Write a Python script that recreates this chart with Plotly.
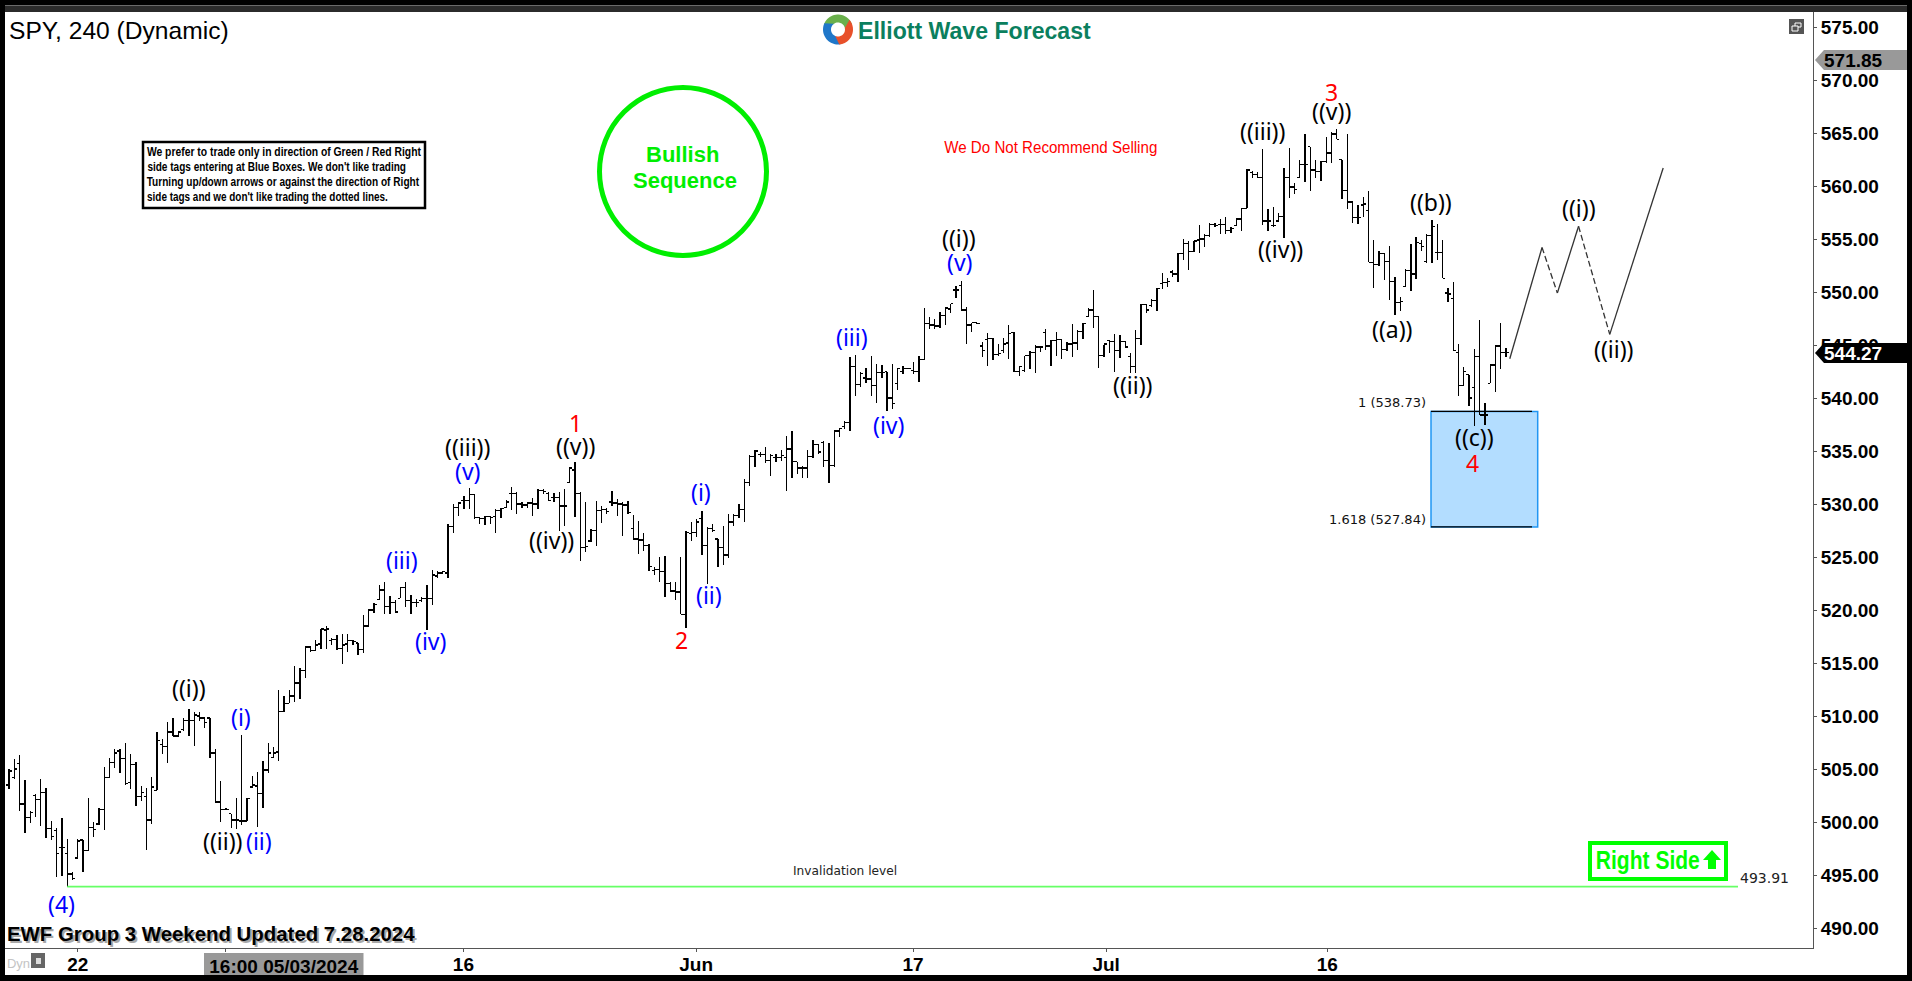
import json
import numpy as np
import plotly.graph_objects as go

highs = [505.0,505.9,506.3,504.0,501.0,502.6,504.1,503.2,500.1,499.4,500.4,498.4,495.3,498.4,498.3,502.3,500.0,501.3,505.2,506.0,
506.9,506.9,507.5,506.4,505.7,503.4,503.2,504.2,508.5,507.8,509.4,509.8,508.6,509.8,510.7,510.4,510.4,509.9,509.8,506.9,
503.9,501.3,500.8,502.3,508.2,502.3,504.3,504.7,505.8,507.5,507.1,512.5,511.9,512.5,514.7,514.5,516.5,516.5,517.2,518.2,
518.5,517.4,517.6,517.7,517.7,517.2,516.9,519.5,520.1,520.7,
522.4,522.6,521.3,520.9,522.2,522.6,521.4,521.0,521.2,522.4,523.8,523.7,523.7,528.1,530.0,530.2,530.8,531.5,530.9,528.8,
528.9,528.9,529.5,529.6,530.4,531.6,531.1,530.2,530.2,530.6,531.4,531.4,531.1,531.0,531.1,531.4,533.5,534.0,531.1,530.2,
527.6,530.3,529.8,529.6,531.2,530.5,530.2,530.3,529.0,528.4,527.3,526.2,524.1,525.0,525.1,522.6,522.6,525.0,527.5,
528.3,528.6,529.3,527.8,528.1,526.7,527.9,529.1,529.1,530.0,532.4,534.6,535.1,534.9,535.4,534.7,534.7,535.1,536.4,536.9,
534.0,533.6,535.1,536.0,535.7,535.9,535.8,536.9,537.2,537.8,543.9,544.1,542.5,542.8,544.0,543.2,543.1,542.5,543.2,542.8,
543.0,542.8,543.4,544.0,548.5,547.6,547.5,548.1,548.5,548.9,550.6,551.0,548.6,547.1,547.1,545.3,546.1,545.7,545.1,545.7,
546.9,546.2,543.0,544.0,544.4,545.0,544.9,546.5,545.5,546.2,545.6,545.3,547.0,546.4,547.1,548.5,550.2,547.7,545.0,545.5,
546.0,545.9,545.4,544.2,546.4,548.9,548.9,549.3,550.4,
551.8,551.3,552.1,553.7,555.0,554.8,554.8,556.3,555.5,556.5,556.5,556.9,557.1,556.1,557.0,557.9,561.6,561.4,561.3,563.5,
557.8,558.0,557.5,561.7,563.6,560.3,562.5,564.9,563.7,562.5,562.4,564.6,565.1,565.4,562.5,564.9,558.5,558.2,559.0,559.5,
554.9,553.9,553.7,554.3,551.4,549.5,552.2,554.5,555.2,554.9,555.5,556.8,556.4,554.9,550.4,550.9,545.1,542.9,542.2,544.6,
547.4,539.5,543.2,545.0,547.1,544.7]
lows = [503.1,504.1,501.0,499.0,499.9,500.5,499.6,498.5,498.3,494.8,494.9,493.9,494.5,496.5,495.3,497.3,498.6,499.7,499.2,504.2,
505.1,504.6,503.5,503.1,501.5,502.0,497.4,499.8,503.0,506.4,505.6,508.1,508.0,508.6,508.1,507.2,509.5,508.9,506.0,501.9,
500.0,501.1,499.4,499.3,499.7,500.1,503.2,499.5,501.3,504.6,506.1,505.8,510.4,511.2,511.3,511.6,513.6,516.0,516.1,516.3,
516.3,516.7,516.2,514.9,516.0,516.7,515.8,515.9,518.4,519.7,
520.9,519.6,519.6,519.8,521.1,520.3,519.6,520.3,520.8,518.1,520.5,523.0,523.4,523.0,527.3,528.9,529.5,529.5,528.6,528.1,
528.0,528.1,527.3,528.7,529.6,529.4,529.1,529.6,529.6,528.9,529.5,530.9,530.3,530.2,527.5,527.9,532.0,528.8,524.6,525.5,
526.4,526.0,528.2,529.1,529.8,528.9,527.0,529.1,526.7,525.3,525.6,523.7,523.3,522.6,521.2,521.7,520.9,519.6,518.3,
526.5,526.9,525.2,522.5,527.4,524.1,524.2,524.9,527.9,528.7,528.3,531.7,533.5,534.4,533.9,532.6,534.0,534.1,531.2,532.5,
532.8,532.5,532.5,534.3,534.7,533.5,532.0,533.5,536.3,537.1,536.9,540.2,541.0,541.4,540.2,539.5,541.9,538.8,539.0,540.8,
542.3,542.7,542.3,541.5,543.6,546.5,546.5,546.6,546.9,548.0,549.4,548.3,545.1,546.2,547.0,543.9,543.0,543.6,544.0,544.2,
543.7,542.5,542.1,542.5,542.7,542.4,544.3,544.5,543.0,544.0,543.7,544.4,543.9,544.5,545.6,547.6,546.6,542.8,543.9,544.2,
542.5,543.8,544.8,542.4,542.4,545.0,548.0,548.6,548.2,
550.3,550.5,551.4,550.9,553.0,552.1,553.8,553.7,554.2,555.2,556.1,555.5,555.5,555.6,556.2,555.8,557.9,560.8,560.8,556.3,
555.8,556.1,556.7,555.1,558.9,559.2,560.8,560.4,559.5,560.8,560.5,562.2,562.2,564.4,558.8,557.8,556.5,556.4,557.1,552.8,
550.4,552.5,551.1,549.2,547.8,548.2,550.5,550.1,551.2,553.9,552.7,552.7,553.0,551.3,549.1,544.5,540.2,541.2,539.2,537.4,
538.4,537.5,541.4,540.6,542.7,543.9]
opens = [503.5,504.2,505.5,501.7,500.4,502.5,502.1,502.8,499.4,499.2,497.6,497.0,495.1,496.6,498.3,497.3,499.5,499.8,501.2,504.2,
505.6,506.7,506.0,503.7,505.4,502.4,502.4,500.2,503.0,507.3,507.1,508.5,508.1,508.7,509.6,509.6,510.0,509.8,509.8,506.5,
501.9,501.2,500.8,500.2,500.1,500.1,503.3,503.4,502.7,504.9,506.1,506.6,510.4,511.2,511.9,513.1,514.3,516.5,516.2,516.8,
518.1,517.1,517.2,516.4,516.8,517.1,516.9,516.3,518.5,520.0,
521.0,521.9,520.3,520.7,521.1,522.1,520.9,520.7,520.9,521.1,521.1,523.2,523.5,523.5,527.9,529.7,530.3,530.3,530.9,528.7,
528.6,528.8,528.8,529.4,529.7,531.0,531.0,530.0,529.9,530.1,530.0,531.3,531.0,530.6,530.6,529.8,532.0,533.2,531.0,525.9,
526.5,527.5,529.4,529.5,530.2,530.1,530.0,529.9,527.7,526.7,526.6,526.1,523.7,523.8,523.6,522.5,521.8,521.7,519.6,
527.2,527.3,528.6,526.1,527.7,526.7,525.9,525.2,528.3,528.9,529.5,532.0,534.5,534.7,534.7,534.1,534.4,534.4,534.4,535.2,
534.0,533.4,533.4,534.5,535.6,535.8,534.1,533.6,536.9,537.3,537.7,543.0,541.3,541.9,541.8,541.2,542.4,542.5,540.0,541.4,
542.5,542.8,542.6,542.5,543.6,547.0,546.9,546.8,547.8,548.4,550.2,550.6,548.3,546.9,547.1,544.9,545.5,545.6,544.1,544.5,
545.2,546.2,542.5,542.6,544.0,544.3,544.8,546.2,544.9,545.4,545.5,544.6,545.1,545.2,546.3,547.7,548.3,547.7,544.0,545.4,
545.3,544.5,545.3,543.9,543.0,545.6,548.8,548.7,549.2,
550.8,550.9,551.9,551.7,553.6,554.6,553.8,554.9,555.0,555.3,556.4,556.4,556.4,555.8,556.3,556.9,557.9,561.3,561.1,560.8,
556.7,556.3,556.7,557.1,560.8,559.9,560.8,562.0,563.7,561.5,561.4,562.3,563.1,564.9,562.5,559.6,558.5,557.0,558.2,557.7,
552.8,552.6,553.6,552.9,551.0,549.0,550.5,552.0,551.7,554.6,552.9,555.3,553.7,553.7,549.9,549.4,544.3,541.2,542.2,541.0,
543.9,538.4,541.4,543.1,544.9,544.3]
closes = [504.8,505.0,501.7,500.4,500.9,502.1,502.8,499.4,498.6,497.0,497.6,495.1,494.7,498.2,497.3,499.5,499.3,501.2,504.2,505.6,
506.5,506.0,503.6,505.4,502.4,502.8,500.2,503.3,507.7,507.1,508.5,508.1,508.5,509.6,509.6,510.1,509.8,509.4,506.5,501.9,
501.2,501.2,500.2,500.2,500.1,502.2,503.5,502.7,504.9,506.5,506.5,510.4,511.2,511.9,513.1,514.3,516.5,516.2,516.7,518.2,
518.2,517.2,516.4,516.7,517.1,517.0,516.3,518.5,520.0,520.5,
521.9,520.3,520.7,519.8,522.1,520.9,520.7,520.7,521.1,521.1,523.3,523.5,523.6,527.9,529.7,530.1,530.3,530.9,528.7,528.6,
528.8,528.7,529.4,529.6,530.2,531.0,530.0,529.9,530.1,530.0,531.3,531.2,530.3,530.6,529.8,529.8,533.4,531.0,525.9,526.0,
527.5,529.4,529.5,529.3,530.1,530.0,529.9,529.2,526.7,526.6,526.1,524.1,523.8,523.6,522.5,521.8,521.7,519.6,527.3,
527.3,528.3,526.1,527.7,527.5,525.9,525.2,528.3,528.9,529.5,532.0,534.5,535.0,534.7,534.1,534.6,534.4,534.6,535.2,534.0,
533.4,533.4,534.5,535.6,534.9,534.1,533.6,536.9,537.1,537.7,543.0,541.3,542.3,541.8,541.2,542.4,542.4,540.0,539.5,542.8,
542.8,542.8,542.5,543.6,547.0,546.9,546.8,547.8,548.5,548.9,550.2,548.3,546.9,547.1,547.0,544.5,545.6,544.1,544.2,545.1,
546.1,542.5,543.0,544.0,544.3,544.8,544.8,544.9,545.4,545.5,544.6,545.1,545.2,546.3,547.0,548.3,547.7,544.0,545.1,545.3,
544.5,545.3,544.8,543.0,545.6,548.8,548.3,549.2,550.3,
550.9,551.0,551.7,553.6,554.6,553.8,554.8,555.0,555.3,556.4,556.3,556.4,555.8,556.0,556.9,557.9,561.5,561.1,560.8,556.7,
556.7,556.3,557.1,560.8,559.9,559.7,562.0,562.0,561.5,561.4,562.3,563.1,564.9,564.4,559.6,558.5,557.0,557.0,558.3,552.8,
552.6,553.6,552.9,551.0,549.0,549.1,552.0,551.7,554.7,554.3,555.3,556.2,553.7,551.3,549.8,544.5,541.2,542.5,540.0,543.9,
538.4,538.4,543.1,544.9,544.3,544.27]

y_ticks = [490,495,500,505,510,515,520,525,530,535,540,545,550,555,560,565,570,575]
x_tick_pos = [13.0,40.9,85.9,129.9,170.9,207.4,249.2]
x_tick_text = ["22","","16","Jun","17","Jul","16"]

wave_text = ["((i))","(i)","((ii))","(ii)","(4)","(iii)","(iv)","(v)","((iii))","((iv))","((v))","1","2","(i)","(ii)",
             "(iii)","(iv)","(v)","((i))","((ii))","((iii))","((iv))","((v))","3","((a))","((b))","((c))","4","((i))","((ii))"]
wave_x = [34.0,43.9,40.4,47.2,10.0,74.2,79.6,86.7,86.7,102.6,107.1,107.0,127.2,130.9,132.3,
          159.3,166.2,179.7,179.5,212.3,237.0,240.3,250.0,250.0,261.6,268.8,277.1,276.7,296.8,303.3]
wave_y = [512.5,509.7,498.0,498.0,492.1,524.5,516.9,532.9,535.2,526.4,535.3,537.5,517.0,530.9,521.2,
          545.6,537.3,552.6,554.9,541.0,565.0,553.9,566.9,568.7,546.3,558.3,536.1,533.7,557.7,544.4]
wave_color = ["#000000","#0000ff","#000000","#0000ff","#0000ff","#0000ff","#0000ff","#0000ff","#000000","#000000","#000000","#ff0000","#ff0000","#0000ff","#0000ff",
              "#0000ff","#0000ff","#0000ff","#000000","#000000","#000000","#000000","#000000","#ff0000","#000000","#000000","#000000","#ff0000","#000000","#000000"]

path_x = [283.7,289.8,292.7,296.7,302.6,312.7]
path_y = [543.7,554.2,549.9,556.2,546.0,561.7]
path_dash = ["solid","dash","solid","dash","solid"]

invalidation = 493.91
fib_upper = 538.73
fib_lower = 527.84
current_price = 544.27
other_price = 571.85

W, H = 1912, 981
L, R, T, B = 5, 1813, 12, 948
BAR0_PX, BAR_STEP = 9.0, 5.29
PX_PER_UNIT = 10.6

def px(x):
    return (x - L) / (R - L)

def py(y):
    return (B - y) / (B - T)

def bar_at(x):
    return (x - BAR0_PX) / BAR_STEP

shapes, anns = [], []

def rect(x0, y0, x1, y1, fill, line=None, lw=0, layer="above", label=None):
    s = dict(type="rect", xref="paper", yref="paper", x0=px(x0), x1=px(x1), y0=py(y0), y1=py(y1),
             fillcolor=fill, line=dict(color=line or fill, width=lw), layer=layer)
    if label:
        s["label"] = label
    shapes.append(s)

def poly(points, fill, layer="above"):
    d = "M " + " L ".join(f"{px(a):.5f},{py(b):.5f}" for a, b in points) + " Z"
    shapes.append(dict(type="path", xref="paper", yref="paper", path=d, fillcolor=fill, line=dict(width=0), layer=layer))

def text(x, y, s, size, color="#000000", family="Liberation Sans", bold=False, anchor="center"):
    anns.append(dict(xref="paper", yref="paper", x=px(x), y=py(y), text=f"<b>{s}</b>" if bold else s,
                     showarrow=False, xanchor=anchor, yanchor="middle", borderpad=0, borderwidth=0,
                     font=dict(size=size, color=color, family=family)))

# frame
rect(5, 12, 1907, 975, "#ffffff", layer="below")
rect(5, 5, 1907, 12, "#2b2b2b", layer="below")
rect(5, 5, 1907, 6, "#6a6a6a", layer="below")

# blue box
shapes.append(dict(type="rect", xref="x", yref="y", x0=bar_at(1431), x1=bar_at(1537.7), y0=fib_lower, y1=fib_upper,
                   fillcolor="#b3ddff", line=dict(color="#2196f3", width=1.5), layer="below"))

fig = go.Figure()
for yy in (fib_upper, fib_lower):
    fig.add_trace(go.Scatter(x=[bar_at(1431), bar_at(1532)], y=[yy, yy], mode="lines",
                             line=dict(color="#000000", width=1.2), hoverinfo="skip"))
fig.add_trace(go.Scatter(x=[11, bar_at(1738)], y=[invalidation, invalidation], mode="lines",
                         line=dict(color="#66ff66", width=1.8), hoverinfo="skip"))
for i, dash in enumerate(path_dash):
    fig.add_trace(go.Scatter(x=path_x[i:i+2], y=path_y[i:i+2], mode="lines",
                             line=dict(color="#333333", width=1.3, dash="solid" if dash == "solid" else "6px,3px"),
                             hoverinfo="skip"))
fig.add_trace(go.Ohlc(x=list(range(len(closes))), open=opens, high=highs, low=lows, close=closes,
                      tickwidth=0.5, hoverinfo="skip",
                      increasing=dict(line=dict(color="#000000", width=1.3)),
                      decreasing=dict(line=dict(color="#000000", width=1.3))))

for s, x, y, c in zip(wave_text, wave_x, wave_y, wave_color):
    anns.append(dict(xref="x", yref="y", x=x, y=y, text=s, showarrow=False, xanchor="center", yanchor="middle",
                     borderwidth=0, borderpad=0, yshift=2, font=dict(size=23, color=c, family="Noto Sans")))

# title, logo
text(9, 30, "SPY, 240 (Dynamic)", 24.6, anchor="left")
text(858, 31, "Elliott Wave Forecast", 23.1, "#0b7f5e", bold=True, anchor="left")
cx, cy = 838, 29.5
for a0, a1, col in ((200, 340, "#6ab04c"), (80, 205, "#1f77c9"), (-40, 85, "#e8502a")):
    ang = np.radians(np.linspace(a0, a1, 24))
    outer = [(cx + 15 * np.cos(t), cy + 15 * np.sin(t)) for t in ang]
    inner = [(cx + 7 * np.cos(t + 0.5), cy + 7 * np.sin(t + 0.5)) for t in ang[::-1]]
    poly(outer + inner, col)

# note box
note_lines = ["We prefer to trade only in direction of Green / Red Right",
              "side tags entering at Blue Boxes. We don't like trading",
              "Turning up/down arrows or against the direction of Right",
              "side tags and we don't like trading the dotted lines."]
note_widths = [274, 258.6, 272.4, 240.8]
note_centers = [284, 276.3, 283.2, 267.4]
rect(143, 142, 425, 208, "#ffffff", "#000000", 2.5)
for yy, line, cxx in zip((152, 167, 182, 197), note_lines, note_centers):
    text(cxx, yy, line, 12, bold=True)

# bullish circle
shapes.append(dict(type="circle", xref="paper", yref="paper", x0=px(599.5), x1=px(766.5), y0=py(87.5), y1=py(255.5),
                   line=dict(color="#00ee00", width=5), fillcolor="rgba(0,0,0,0)", layer="above"))
text(682, 154, "Bullish", 22, "#00ee00", bold=True)
text(684.5, 180, "Sequence", 22, "#00ee00", bold=True)
text(1051.4, 147, "We Do Not Recommend Selling", 16, "#ff0000")

# fib labels, levels
text(1426, 403, "1 (538.73)", 13, "#111111", "DejaVu Sans", anchor="right")
text(1426, 519, "1.618 (527.84)", 13, "#111111", "DejaVu Sans", anchor="right")
text(845, 871, "Invalidation level", 12.2, "#222222", "DejaVu Sans")
text(1740, 878, "493.91", 14, "#222222", "DejaVu Sans", anchor="left")

# right side tag
rect(1590, 843, 1726, 879, "#ffffff", "#00ff00", 4)
text(1648, 860, "Right Side", 25, "#00ff00", bold=True)
poly([(1712, 850), (1721, 860), (1716, 860), (1716, 869), (1708, 869), (1708, 860), (1703, 860)], "#00ff00")

# bottom caption
text(8.5, 936, "EWF Group 3 Weekend Updated 7.28.2024", 20.4, "#a8a8a8", bold=True, anchor="left")
text(6.5, 934, "EWF Group 3 Weekend Updated 7.28.2024", 20.4, bold=True, anchor="left")

# time cursor
rect(204, 953, 363.5, 975, "#999999",
     label=dict(text="<b>16:00 05/03/2024</b>", textposition="middle center",
                font=dict(size=19, color="#000000", family="Liberation Sans")))
rect(7, 953, 30, 972, "rgba(0,0,0,0)",
     label=dict(text="Dyn", textposition="middle center", font=dict(size=13, color="#c4c4c4", family="Liberation Sans")))
rect(31, 953, 45, 968, "#666666")
rect(36, 958, 41, 964, "#dddddd")

# price flags
poly([(1815, 60), (1824, 50), (1907, 50), (1907, 70), (1824, 70)], "#999999")
text(1824, 60, f"{other_price:.2f}", 19, bold=True, anchor="left")
poly([(1815, 353), (1824, 343), (1907, 343), (1907, 363), (1824, 363)], "#000000")
text(1824, 353, f"{current_price:.2f}", 19, "#ffffff", bold=True, anchor="left")

# window icon
rect(1789, 19, 1804, 34, "#555555")
rect(1795, 23, 1801, 27, "#555555", "#ffffff", 1)
rect(1792, 26, 1798, 31, "#555555", "#ffffff", 1)

fig.update_layout(
    width=W, height=H, margin=dict(l=L, r=W - R, t=T, b=H - B, pad=0),
    paper_bgcolor="#000000", plot_bgcolor="#ffffff", showlegend=False,
    shapes=shapes, annotations=anns, hovermode=False,
    font=dict(family="Liberation Sans", color="#000000"),
    xaxis=dict(range=[bar_at(L), bar_at(R)], tickmode="array", tickvals=x_tick_pos, ticktext=x_tick_text,
               ticks="outside", ticklen=3, tickcolor="#555555", showgrid=False, zeroline=False,
               showline=True, linecolor="#555555", linewidth=1, fixedrange=True, rangeslider=dict(visible=False),
               ticklabelstandoff=-4,
               tickfont=dict(size=19, family="Liberation Sans", color="#000000", weight="bold")),
    yaxis=dict(range=[575 - (B - 27) / PX_PER_UNIT, 575 + (27 - T) / PX_PER_UNIT], side="right",
               tickmode="array", tickvals=y_ticks, ticktext=[f"{v:.2f}" for v in y_ticks],
               ticks="outside", ticklen=3, tickcolor="#555555", showgrid=False, zeroline=False,
               showline=True, linecolor="#555555", linewidth=1, fixedrange=True,
               tickfont=dict(size=19, family="Liberation Sans", color="#000000", weight="bold")),
)

squeeze = {line: w for line, w in zip(note_lines, note_widths)}
squeeze["Right Side"] = 104
squeeze["We Do Not Recommend Selling"] = 213
post = """
document.body.style.margin='0';document.body.style.background='#000';document.body.style.overflow='hidden';
var squeeze=%s;
document.querySelectorAll('.annotation-text').forEach(function(t){
  var w=squeeze[t.textContent];
  if(w){t.setAttribute('textLength',w);t.setAttribute('lengthAdjust','spacingAndGlyphs');}
});
document.querySelectorAll('.ohlc path').forEach(function(p){p.style.shapeRendering='crispEdges';});
""" % json.dumps(squeeze)
fig.write_html("out.html", config=dict(displayModeBar=False, staticPlot=True), post_script=post)
